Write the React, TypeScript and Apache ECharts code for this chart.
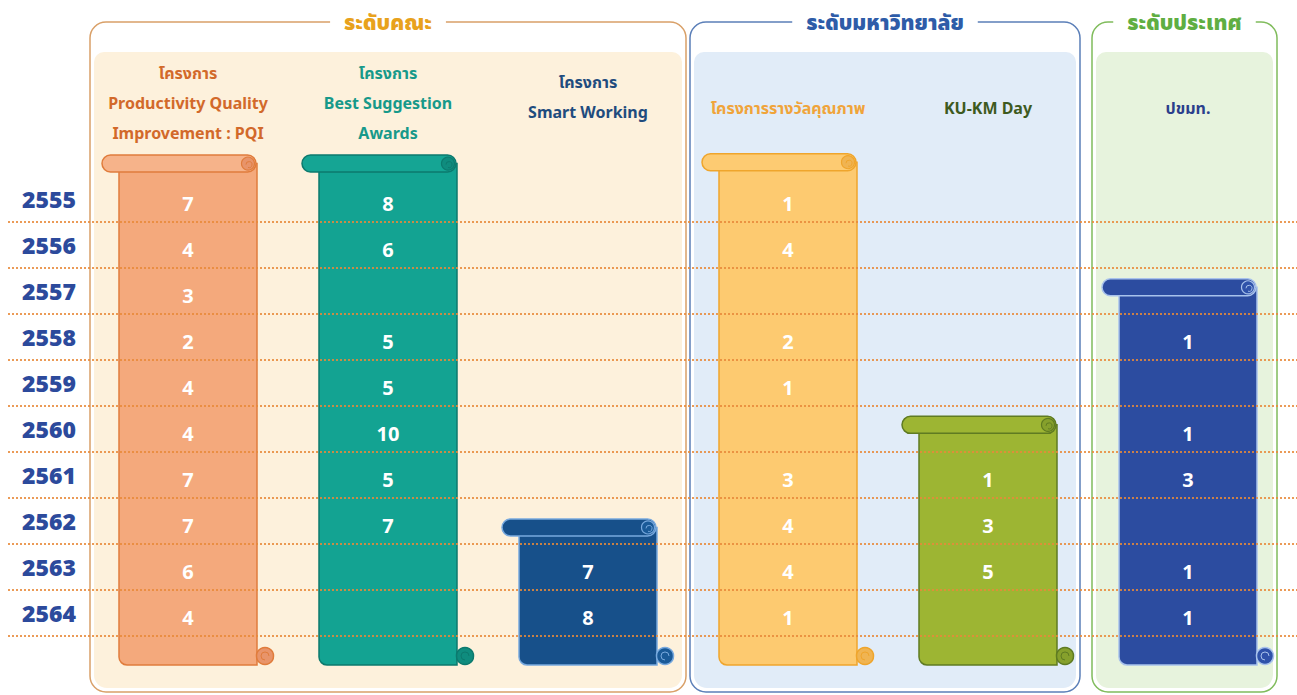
import React, { useEffect, useRef } from "react";
import * as echarts from "echarts";

const years = ["2555", "2556", "2557", "2558", "2559", "2560", "2561", "2562", "2563", "2564"];

const projectNames = [
  "โครงการ\nProductivity Quality\nImprovement : PQI",
  "โครงการ\nBest Suggestion\nAwards",
  "โครงการ\nSmart Working",
  "โครงการรางวัลคุณภาพ",
  "KU-KM Day",
  "ปขมท.",
];

const levelNames = ["ระดับคณะ", "ระดับมหาวิทยาลัย", "ระดับประเทศ"];

const pqiValues = [7, 4, 3, 2, 4, 4, 7, 7, 6, 4];
const bestSuggestionValues = [8, 6, null, 5, 5, 10, 5, 7, null, null];
const smartWorkingValues = [null, null, null, null, null, null, null, null, 7, 8];
const qualityAwardValues = [1, 4, null, 2, 1, null, 3, 4, 4, 1];
const kukmDayValues = [null, null, null, null, null, null, 1, 3, 5, null];
const pkmtValues = [null, null, null, 1, null, 1, 3, null, 1, 1];

// scroll extent, in rows (0 = row of 2555)
const scrollTopRow = [-0.77, -0.77, 7.14, -0.8, 4.91, 1.92];
const scrollBottomRow = [10.13, 10.13, 10.13, 10.13, 10.13, 10.13];

const allValues = [pqiValues, bestSuggestionValues, smartWorkingValues, qualityAwardValues, kukmDayValues, pkmtValues];

// styles
const headerColors = ["#D2692A", "#17998A", "#1F4C7E", "#F0A43A", "#3E5A1E", "#2B3F8C"];
const scrollStyles = [
  { fill: "#F4A97C", roll: "#F6B38A", stroke: "#E07C3C", dark: "#E8946A" },
  { fill: "#13A392", roll: "#15A594", stroke: "#0C7A6E", dark: "#0F8C7E" },
  { fill: "#17508A", roll: "#17508A", stroke: "#78A9DE", dark: "#1A5A98" },
  { fill: "#FDCA70", roll: "#FDCB72", stroke: "#EFA52C", dark: "#F0B452" },
  { fill: "#9DB533", roll: "#9DB533", stroke: "#5F7B22", dark: "#86A02C" },
  { fill: "#2C4CA0", roll: "#2C4CA0", stroke: "#A8C2EC", dark: "#2F52AA" },
];

const FONT = "'Noto Sans', 'Noto Sans Thai', Lato, sans-serif";

export default function App() {
  const ref = useRef<HTMLDivElement>(null);

  useEffect(() => {
    document.body.style.margin = "0";
    if (!ref.current) return;
    const chart = echarts.init(ref.current, undefined, { renderer: "svg" });

    const scrollData = projectNames.map((_, i) => [i, years[0], scrollTopRow[i], scrollBottomRow[i]]);
    const valueData: any[] = [];
    allValues.forEach((arr, c) => {
      arr.forEach((v, r) => {
        if (v !== null && v !== undefined) valueData.push([c, years[r], v]);
      });
    });
    const lineData = years.map((y) => [0, y]);

    const panel = (x1: number, x2: number, stroke: string, fill: string, title: string, titleColor: string) => [
      {
        type: "rect",
        z: 0,
        shape: { x: x1, y: 22, width: x2 - x1, height: 670, r: 16 },
        style: { fill: "#ffffff", stroke, lineWidth: 1.5 },
      },
      {
        type: "rect",
        z: 1,
        shape: { x: x1 + 4, y: 52, width: x2 - x1 - 8, height: 636, r: [10, 10, 13, 13] },
        style: { fill },
      },
      {
        type: "text",
        z: 2,
        x: (x1 + x2) / 2,
        y: 22,
        style: {
          text: title,
          fill: titleColor,
          font: `900 21px ${FONT}`,
          align: "center",
          verticalAlign: "middle",
          backgroundColor: "#ffffff",
          padding: [2, 14],
        },
      },
    ];

    const option: any = {
      animation: false,
      backgroundColor: "#ffffff",
      grid: { left: 88, right: 9, top: 176, bottom: 59, containLabel: false },
      xAxis: {
        type: "category",
        position: "top",
        z: 20,
        data: projectNames,
        axisLine: { show: false },
        axisTick: { show: false },
        splitLine: { show: false },
        axisLabel: {
          interval: 0,
          margin: 73,
          verticalAlign: "middle",
          lineHeight: 30,
          fontSize: 16,
          fontWeight: "bold",
          fontFamily: FONT,
          color: (val: string) => headerColors[projectNames.indexOf(val)] || "#333",
          formatter: (val: string) => {
            const lines = val.split("\n");
            if (lines.length === 1) return `{one|${val}}`;
            if (lines.length === 2) return `{l|${lines[0]}}\n{l|${lines[1]}}\n{gap| }`;
            return val;
          },
          rich: {
            one: { padding: [10, 0, 0, 0], lineHeight: 30, fontSize: 16, fontWeight: "bold", fontFamily: FONT },
            l: { lineHeight: 30, fontSize: 16, fontWeight: "bold", fontFamily: FONT },
            gap: { lineHeight: 12, fontSize: 2 },
          },
        },
      },
      yAxis: {
        type: "category",
        inverse: true,
        z: 20,
        data: years,
        axisLine: { show: false },
        axisTick: { show: false },
        splitLine: { show: false },
        axisLabel: {
          margin: 12,
          fontSize: 23,
          fontWeight: 900,
          fontFamily: FONT,
          color: "#2C4A9C",
        },
      },
      graphic: [
        ...panel(90, 686, "#D9A068", "#FDF1DC", levelNames[0], "#E8A21C"),
        ...panel(690, 1080, "#5B7FB8", "#E1ECF8", levelNames[1], "#2E5CA8"),
        ...panel(1092, 1277, "#80BC5C", "#E7F3DD", levelNames[2], "#5FAE42"),
      ],
      series: [
        {
          type: "custom",
          z: 3,
          data: scrollData,
          encode: { x: 0, y: 1 },
          renderItem: (params: any, api: any) => {
            const col = api.value(0);
            const c0 = api.coord([col, 0]);
            const rowH = api.size([0, 1])[1];
            const cx = c0[0];
            const rollY = c0[1] + api.value(2) * rowH;
            const bottom = c0[1] + api.value(3) * rowH;
            const s = scrollStyles[col];
            return {
              type: "group",
              children: [
                {
                  type: "rect",
                  shape: { x: cx - 69, y: rollY, width: 138, height: bottom - rollY, r: [0, 0, 0, 8] },
                  style: { fill: s.fill, stroke: s.stroke, lineWidth: 1.5 },
                },
                {
                  type: "rect",
                  shape: { x: cx - 86, y: rollY - 8.5, width: 154, height: 17, r: 8.5 },
                  style: { fill: s.roll, stroke: s.stroke, lineWidth: 1.5 },
                },
                {
                  type: "circle",
                  shape: { cx: cx + 60, cy: rollY, r: 6.5 },
                  style: { fill: s.dark, stroke: s.stroke, lineWidth: 1.2 },
                },
                {
                  type: "arc",
                  shape: { cx: cx + 61, cy: rollY + 1, r: 3, startAngle: Math.PI, endAngle: Math.PI * 2.6 },
                  style: { fill: "none", stroke: s.stroke, lineWidth: 1 },
                },
                {
                  type: "circle",
                  shape: { cx: cx + 77, cy: bottom - 9, r: 8.5 },
                  style: { fill: s.dark, stroke: s.stroke, lineWidth: 1.5 },
                },
                {
                  type: "arc",
                  shape: { cx: cx + 77, cy: bottom - 9, r: 4, startAngle: Math.PI * 0.5, endAngle: Math.PI * 2 },
                  style: { fill: "none", stroke: s.stroke, lineWidth: 1 },
                },
              ],
            };
          },
        },
        {
          type: "custom",
          z: 4,
          data: lineData,
          encode: { x: 0, y: 1 },
          renderItem: (params: any, api: any) => {
            const p = api.coord([0, api.value(1)]);
            const rowH = api.size([0, 1])[1];
            const y = Math.round(p[1] + rowH / 2);
            return {
              type: "line",
              shape: { x1: 8, y1: y, x2: 1297, y2: y },
              style: { stroke: "#E8893A", lineWidth: 2, lineDash: [2, 2], opacity: 0.85 },
            };
          },
        },
        {
          type: "custom",
          z: 5,
          data: valueData,
          encode: { x: 0, y: 1 },
          renderItem: (params: any, api: any) => {
            const p = api.coord([api.value(0), api.value(1)]);
            return {
              type: "text",
              x: p[0],
              y: p[1] + 4,
              style: {
                text: String(api.value(2)),
                fill: "#ffffff",
                font: `bold 20px ${FONT}`,
                align: "center",
                verticalAlign: "middle",
              },
            };
          },
        },
      ],
    };

    chart.setOption(option);
    return () => chart.dispose();
  }, []);

  return <div ref={ref} style={{ position: "absolute", left: 0, top: 0, width: 1297, height: 695 }} />;
}
